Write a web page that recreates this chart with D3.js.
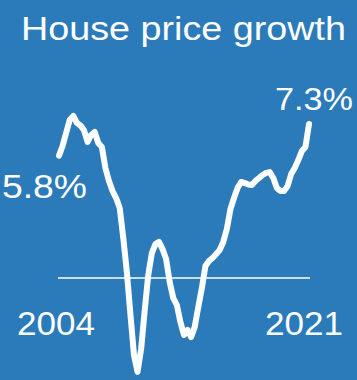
<!DOCTYPE html>
<html><head><meta charset="utf-8">
<script src="https://cdn.jsdelivr.net/npm/d3@7"></script>
<style>html,body{margin:0;padding:0;background:#2b7bba;}svg{display:block;}</style>
</head><body>
<svg id="chart" width="357" height="380"></svg>
<script>
const title = "House price growth";
const startYear = 2004, endYear = 2021;
const startLabel = "5.8%", endLabel = "7.3%";
// quarterly, 2004Q1 .. 2021Q3
const values = [5.8,6.26,6.87,7.49,7.68,7.35,7.23,7.01,6.45,6.78,
  6.92,6.40,6.21,5.21,4.60,4.12,3.79,3.32,1.90,0.28,
  -1.75,-3.65,-4.45,-3.36,-1.52,0.14,1.18,1.61,1.71,1.37,
  0.90,-0.19,-0.95,-1.28,-2.09,-2.70,-2.46,-2.80,-2.32,-1.37,
  -0.47,0.57,0.81,0.95,1.14,1.33,1.71,2.32,3.27,3.79,
  4.27,4.55,4.50,4.43,4.41,4.60,4.74,4.88,4.98,5.02,
  4.74,4.27,4.12,4.12,4.36,4.93,5.21,5.59,6.02,6.21,7.3];
const dates = values.map((v,i)=> new Date(startYear, i*3, 1));

const W = 357, H = 380;
const svg = d3.select("#chart");
svg.append("rect").attr("width",W).attr("height",H).attr("fill","#2b7bba");

const x = d3.scaleTime().domain(d3.extent(dates)).range([59, 309]);
const y = d3.scaleLinear().domain([-5, 8]).range([383.5, 109.2]);

const font = "'Liberation Sans', Arial, sans-serif";

svg.append("text").text(title)
  .attr("x", 21).attr("y", 40)
  .attr("font-family", font).attr("font-size", 34)
  .attr("textLength", 325).attr("lengthAdjust","spacingAndGlyphs")
  .attr("fill", "#fff");

// zero line
svg.append("line")
  .attr("x1", x(dates[0]) - 1).attr("x2", x(dates[dates.length-1]) + 1)
  .attr("y1", y(0)).attr("y2", y(0))
  .attr("stroke", "#fff").attr("stroke-width", 1.5);

const line = d3.line().x((d,i)=>x(dates[i])).y(d=>y(d));
svg.append("path").datum(values)
  .attr("d", line)
  .attr("fill","none").attr("stroke","#fff")
  .attr("stroke-width", 6).attr("stroke-linejoin","round").attr("stroke-linecap","round");

// labels
svg.append("text").text(startLabel)
  .attr("x", x(dates[0]) - 57).attr("y", y(values[0]) + 42)
  .attr("font-family", font).attr("font-size", 33)
  .attr("textLength", 85).attr("lengthAdjust","spacingAndGlyphs")
  .attr("fill","#fff");
svg.append("text").text(endLabel)
  .attr("x", x(dates[dates.length-1]) - 34).attr("y", y(values[values.length-1]) - 14)
  .attr("font-family", font).attr("font-size", 31)
  .attr("textLength", 78).attr("lengthAdjust","spacingAndGlyphs")
  .attr("fill","#fff");
svg.append("text").text(String(startYear))
  .attr("x", x(dates[0]) - 42).attr("y", 335)
  .attr("font-family", font).attr("font-size", 34)
  .attr("textLength", 78).attr("lengthAdjust","spacingAndGlyphs")
  .attr("fill","#fff");
svg.append("text").text(String(endYear))
  .attr("x", x(dates[dates.length-1]) - 44).attr("y", 335)
  .attr("font-family", font).attr("font-size", 34)
  .attr("textLength", 78).attr("lengthAdjust","spacingAndGlyphs")
  .attr("fill","#fff");
</script>
</body></html>
